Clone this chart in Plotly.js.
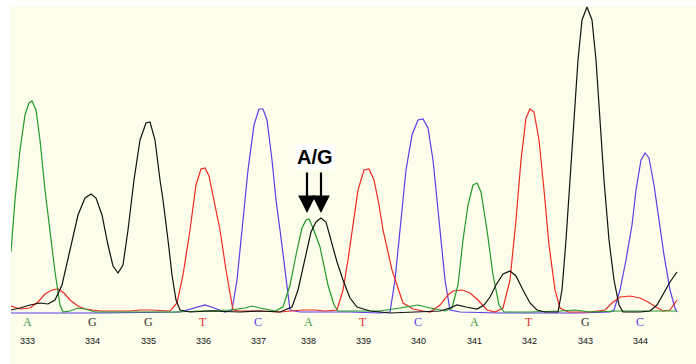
<!DOCTYPE html>
<html>
<head>
<meta charset="utf-8">
<script src="https://cdn.plot.ly/plotly-3.0.1.min.js"></script>
<style>html,body{margin:0;padding:0;background:#fff;}#chart{width:696px;height:364px;}</style>
</head>
<body>
<div id="chart"></div>
<script>
// Scan positions and signal heights (height = signal above baseline)
const channelA_x = [11,15,20,25,29,32,36,40,45,50,55,60,63,70,78,85,95,110,150,175,200,230,245,252,260,275,283,290,296,302,306,309,313,320,328,334,338,360,380,400,410,418,430,445,452,458,463,468,473,477,481,487,493,499,504,530,560,575,590,620,660,677];
const channelA_y = [61,113,163,198,210,212,203,173,123,83,41,8,1,2,5,4,1,1,1,1,2,3,5,7,5,2,6,28,58,85,93,94,85,66,28,8,2,2,2,5,7,8,5,2,5,28,73,108,128,130,121,83,38,8,1,1,2,3,1,2,2,2];

const channelG_x = [11,20,30,40,48,55,62,70,78,85,91,96,102,108,113,118,123,128,134,140,146,150,155,160,163,168,172,176,180,190,210,240,260,280,292,298,305,311,316,321,326,331,337,343,350,357,370,390,420,440,450,457,466,477,484,490,496,503,510,516,523,530,537,545,552,558,562,566,570,574,578,582,587,592,596,600,604,609,614,619,623,640,650,657,663,670,677];
const channelG_y = [3,5,8,10,9,13,28,63,98,115,119,115,98,68,47,40,48,83,133,173,190,191,173,133,113,73,38,13,3,1,2,1,2,1,6,23,53,81,91,95,91,73,51,33,15,6,2,0,1,2,5,8,6,4,8,16,28,39,42,37,23,10,3,1,1,1,23,73,133,193,253,293,306,293,253,193,133,73,33,8,1,1,2,8,18,31,41];

const channelT_x = [11,20,30,38,45,52,58,64,70,78,85,100,130,140,150,170,177,183,190,196,201,205,209,215,220,226,233,240,260,280,295,303,315,325,337,343,348,352,358,364,369,374,379,383,392,403,413,423,430,440,448,453,462,470,478,487,495,503,510,516,521,526,530,534,539,544,549,555,560,568,590,605,612,620,630,640,648,656,663,670,675,677];
const channelT_y = [7,4,5,11,19,23,24,20,13,7,4,2,2,3,3,2,10,38,83,128,144,145,137,108,83,43,3,2,2,1,2,3,3,2,3,23,53,83,123,143,144,133,108,83,43,10,4,2,1,8,18,22,23,20,13,3,1,5,33,93,153,195,204,201,173,123,68,23,5,1,1,3,10,16,17,15,11,6,2,3,10,13];

const channelC_x = [11,100,180,195,205,214,225,232,237,242,248,254,259,263,267,272,276,280,285,290,300,320,350,380,390,395,400,406,412,418,423,428,433,440,445,450,460,500,540,580,610,614,620,626,632,636,641,645,649,654,659,664,670,675,677];
const channelC_y = [0,0,1,5,8,5,1,3,33,83,143,188,204,204,193,153,113,83,43,3,1,1,1,0,1,33,83,143,178,193,194,185,153,83,33,3,1,0,0,0,1,3,23,53,88,123,153,160,155,128,93,58,23,5,1];

// Base calls and positions
const baseCalls = ["A","G","G","T","C","A","T","C","A","T","G","C"];
const basePos = [27,92,148,203,258,308,363,418,474,529,585,640];
const baseNums = ["333","334","335","336","337","338","339","340","341","342","343","344"];

const colA = "#22992a", colC = "#5a3ce6", colG = "#111111", colT = "#ee2a22";
const callColor = {A:"#3a9a3a", C:"#5a3ce6", G:"#333333", T:"#e8302a"};

const mk = (x,y,c)=>({x:x,y:y,type:"scatter",mode:"lines",line:{color:c,width:1.2},hoverinfo:"skip",showlegend:false});
const data = [
  mk(channelC_x,channelC_y,colC),
  mk(channelT_x,channelT_y,colT),
  mk(channelA_x,channelA_y,colA),
  mk(channelG_x,channelG_y,colG)
];

const ann = [];
baseCalls.forEach((b,i)=>{
  ann.push({x:basePos[i],y:-9,text:b,showarrow:false,xref:"x",yref:"y",
    font:{family:"Liberation Serif, serif",size:12,color:callColor[b]}});
  ann.push({x:basePos[i],y:-28,text:baseNums[i],showarrow:false,xref:"x",yref:"y",
    font:{family:"Liberation Sans, Arial",size:9,color:"#111"}});
});
// A/G heterozygous marker
ann.push({x:315,y:156,text:"<b>A/G</b>",showarrow:false,xref:"x",yref:"y",bgcolor:"#ffffff",
  font:{family:"Liberation Sans, Arial",size:20,color:"#000"}});
[307,321].forEach(px=>{
  ann.push({x:px,y:100,ax:0,ay:-42,text:"",showarrow:true,arrowhead:2,arrowsize:1.6,arrowwidth:2.2,
    arrowcolor:"#000",xref:"x",yref:"y"});
});

const layout = {
  width:696,height:364,
  margin:{l:11,r:0,t:6,b:0,pad:0},
  paper_bgcolor:"#ffffff",
  plot_bgcolor:"#fdfdeb",
  xaxis:{range:[11,696],showgrid:false,zeroline:false,showticklabels:false,ticks:"",showline:false,fixedrange:true},
  yaxis:{range:[-51,307],showgrid:false,zeroline:false,showticklabels:false,ticks:"",showline:false,fixedrange:true},
  annotations:ann
};
Plotly.newPlot("chart",data,layout,{displayModeBar:false,staticPlot:true});
</script>
</body>
</html>
